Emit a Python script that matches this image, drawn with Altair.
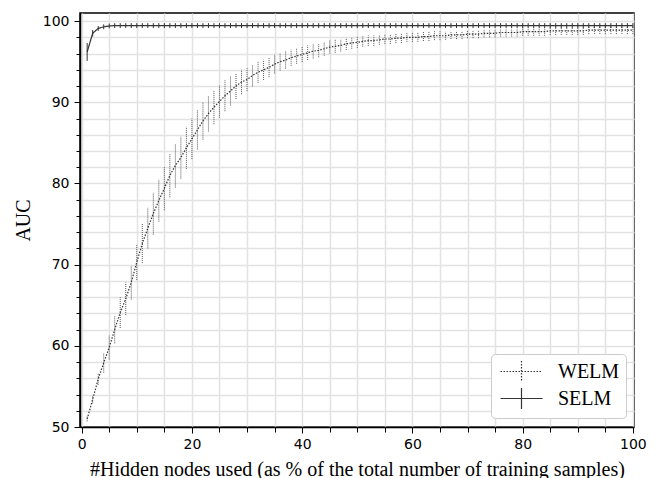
import altair as alt
import pandas as pd

# ---- data ----
x_pct = list(range(1, 101))

welm_mean = [
    51.0, 53.4, 55.9, 57.9, 59.8, 62.0, 64.1, 65.8, 67.8, 70.3,
    72.6, 74.5, 76.3, 77.9, 79.4, 81.0, 82.2, 83.2, 84.4, 85.5,
    86.6, 87.7, 88.6, 89.4, 90.1, 90.8, 91.4, 92.0, 92.5, 92.8,
    93.3, 93.7, 94.0, 94.3, 94.7, 95.0, 95.2, 95.5, 95.7, 95.9,
    96.1, 96.3, 96.4, 96.6, 96.8, 96.9, 97.0, 97.2, 97.3, 97.4,
    97.5, 97.6, 97.6, 97.7, 97.8, 97.8, 97.9, 97.9, 98.0, 98.0,
    98.0, 98.1, 98.1, 98.2, 98.2, 98.2, 98.3, 98.3, 98.3, 98.4,
    98.4, 98.4, 98.5, 98.5, 98.5, 98.6, 98.6, 98.6, 98.6, 98.7,
    98.7, 98.7, 98.7, 98.7, 98.8, 98.8, 98.8, 98.8, 98.8, 98.8,
    98.8, 98.9, 98.9, 98.9, 98.9, 98.9, 98.9, 98.9, 98.9, 98.9,
]
welm_err = [
    0.3, 0.5, 0.7, 1.2, 1.5, 1.7, 1.9, 2.0, 2.1, 2.2,
    2.4, 2.5, 2.6, 2.6, 2.7, 2.7, 2.7, 2.6, 2.6, 2.5,
    2.4, 2.3, 2.2, 2.1, 2.0, 1.9, 1.8, 1.6, 1.5, 1.4,
    1.35, 1.3, 1.25, 1.2, 1.15, 1.1, 1.05, 1.0, 0.95, 0.95,
    0.9, 0.9, 0.85, 0.85, 0.8, 0.8, 0.75, 0.75, 0.7, 0.7,
    0.65, 0.65, 0.65, 0.6, 0.6, 0.6, 0.6, 0.6, 0.55, 0.55,
    0.55, 0.55, 0.55, 0.55, 0.55, 0.5, 0.5, 0.5, 0.5, 0.5,
    0.5, 0.5, 0.5, 0.5, 0.5, 0.5, 0.5, 0.5, 0.5, 0.5,
    0.5, 0.5, 0.5, 0.5, 0.5, 0.5, 0.5, 0.5, 0.5, 0.5,
    0.5, 0.5, 0.5, 0.5, 0.5, 0.5, 0.5, 0.5, 0.5, 0.5,
]
selm_mean = [96.2, 98.5, 99.1, 99.3, 99.4] + [99.45] * 95
selm_err = [1.1, 0.4, 0.3] + [0.3] * 97

series_names = ["WELM", "SELM"]
x_ticks = list(range(0, 101, 5))     # labelled every 20
y_ticks = list(range(50, 101, 2))    # labelled every 10

rows = []
for i, x in enumerate(x_pct):
    rows.append(dict(x=x, series="WELM", auc=welm_mean[i],
                     lo=welm_mean[i] - welm_err[i], hi=welm_mean[i] + welm_err[i]))
    rows.append(dict(x=x, series="SELM", auc=selm_mean[i],
                     lo=selm_mean[i] - selm_err[i], hi=selm_mean[i] + selm_err[i]))
df = pd.DataFrame(rows)

xs = alt.Scale(domain=[-0.3, 100.2], nice=False, zero=False)
ys = alt.Scale(domain=[50, 101], nice=False, zero=False)

x_axis = alt.Axis(
    values=x_ticks, grid=True, orient="bottom",
    labelExpr="datum.value % 20 === 0 ? datum.label : ''",
    tickSize={"condition": {"test": "datum.value % 20 === 0", "value": 6}, "value": 5},
    labelPadding=4, titlePadding=8,
    title="#Hidden nodes used (as % of the total number of training samples)",
)
y_axis = alt.Axis(
    values=y_ticks, grid=True, orient="left",
    labelExpr="datum.value % 10 === 0 ? datum.label : ''",
    tickSize={"condition": {"test": "datum.value % 10 === 0", "value": 6}, "value": 4},
    labelPadding=5, titlePadding=9, title="AUC",
)

base = alt.Chart(df)

welm_err_layer = base.transform_filter(alt.datum.series == "WELM").mark_rule(
    color="#555555", strokeWidth=1, strokeDash=[1, 1]
).encode(
    x=alt.X("x:Q", scale=xs, axis=x_axis),
    y=alt.Y("lo:Q", scale=ys, axis=y_axis),
    y2="hi:Q",
)

selm_err_layer = base.transform_filter(alt.datum.series == "SELM").mark_rule(
    color="#333333", strokeWidth=1
).encode(
    x=alt.X("x:Q", scale=xs, axis=x_axis),
    y=alt.Y("lo:Q", scale=ys, axis=y_axis),
    y2="hi:Q",
)

lines = base.mark_line(color="#333333", strokeWidth=1.2).encode(
    x=alt.X("x:Q", scale=xs, axis=x_axis),
    y=alt.Y("auc:Q", scale=ys, axis=y_axis),
    strokeDash=alt.StrokeDash(
        "series:N",
        scale=alt.Scale(domain=series_names, range=[[1.5, 1.5], [1, 0]]),
        legend=alt.Legend(
            title=None, orient="none", legendX=411, legendY=341,
            symbolType="M-2,0H2M0,-1V1", symbolSize=441, symbolOffset=13,
            symbolStrokeWidth=1.2, symbolStrokeColor="#333333",
            labelFont="Liberation Serif", labelFontSize=20, labelColor="black",
            labelOffset=25, rowPadding=0, padding=6,
            fillColor="white", strokeColor="#cccccc", cornerRadius=4,
        ),
    ),
    detail="series:N",
)

chart = alt.layer(welm_err_layer, selm_err_layer, lines).properties(
    width=554, height=414
).configure_view(
    stroke="black", strokeWidth=1.5
).configure_axis(
    domainColor="black", domainWidth=1.5, tickColor="black", tickWidth=1,
    gridColor="#e2e2e2", gridWidth=1.5,
    labelFont="DejaVu Sans", labelFontSize=14, labelColor="black",
    titleFont="Liberation Serif", titleFontSize=20, titleFontWeight="normal", titleColor="black",
)

chart.save("out.html", embed_options={"renderer": "svg", "actions": False})
